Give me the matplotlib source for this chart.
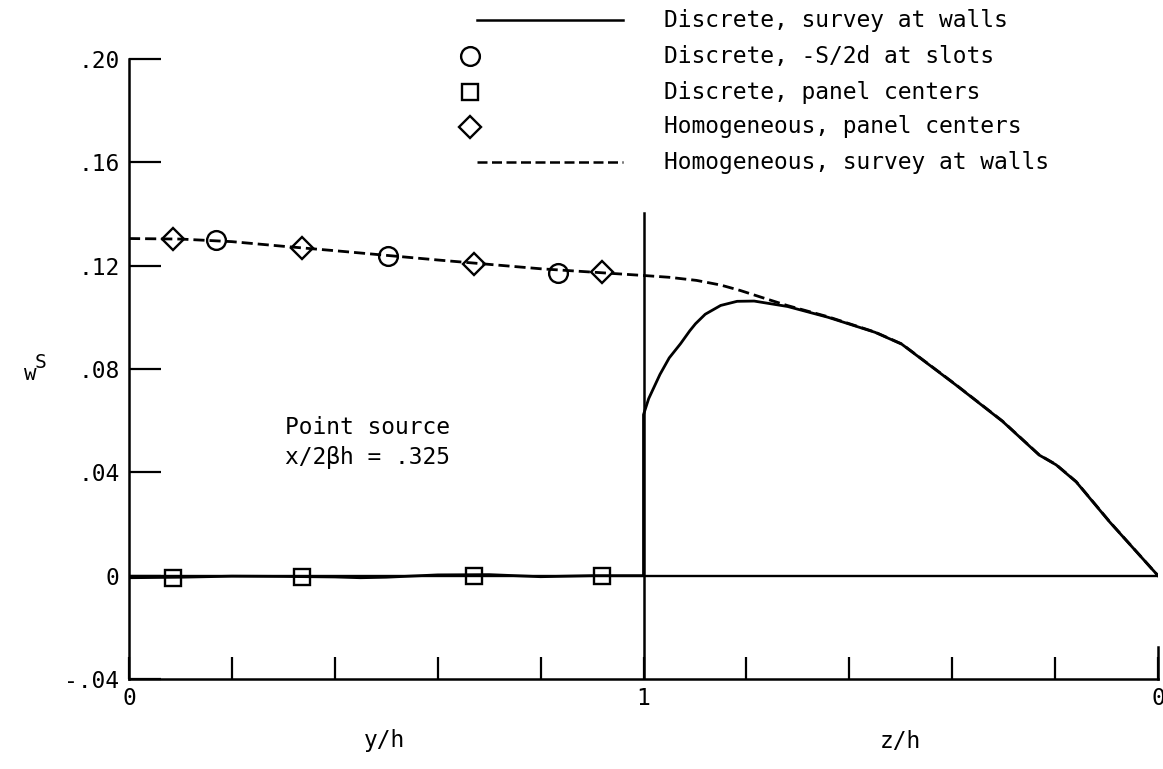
import matplotlib
matplotlib.use("Agg")
import matplotlib.pyplot as plt
from matplotlib.lines import Line2D

# ---------------- data ----------------
# x axis: 0..1 is y/h, 1..2 is z/h running from 1 back to 0
disc_wall_x = [0.0, 0.1, 0.2, 0.3, 0.4, 0.45, 0.5, 0.6, 0.7, 0.8, 0.9, 0.98, 1.0,
               1.0, 1.01, 1.032, 1.05, 1.072, 1.09, 1.101, 1.12, 1.15, 1.182, 1.215,
               1.280, 1.359, 1.450, 1.502, 1.606, 1.698, 1.769, 1.802, 1.841, 1.906, 2.0]
disc_wall_y = [-0.0008, -0.0006, -0.0002, -0.0003, -0.0005, -0.0008, -0.0006, 0.0003,
               0.0004, -0.0004, 0.0, 0.0, 0.0,
               0.0623, 0.0685, 0.0779, 0.0843, 0.0898, 0.0948, 0.0975, 0.1012, 0.1046,
               0.1062, 0.1063, 0.1042, 0.1000, 0.0942, 0.0896, 0.0740, 0.0597, 0.0467,
               0.0429, 0.0363, 0.0208, 0.0]

slot_x = [0.17, 0.503, 0.834]
slot_y = [0.1300, 0.1238, 0.1171]

panel_x = [0.085, 0.336, 0.670, 0.919]
disc_panel_y = [-0.0010, -0.0007, -0.0003, -0.0001]
hom_panel_y = [0.1305, 0.1268, 0.1207, 0.1177]

hom_wall_x = [0.0, 0.1, 0.2, 0.3, 0.4, 0.5, 0.6, 0.7, 0.8, 0.9, 1.0, 1.05, 1.103, 1.15,
              1.188, 1.23, 1.279, 1.359, 1.450, 1.502, 1.606, 1.698, 1.769, 1.802,
              1.841, 1.906, 2.0]
hom_wall_y = [0.1305, 0.1303, 0.1293, 0.1275, 0.1258, 0.1240, 0.1222, 0.1205, 0.1188,
              0.1175, 0.1162, 0.1155, 0.1143, 0.1125, 0.1104, 0.1077, 0.1046, 0.1002,
              0.0943, 0.0897, 0.0741, 0.0598, 0.0468, 0.0430, 0.0364, 0.0209, 0.0]

wall_top = 0.1404

yticks = [-0.04, 0.0, 0.04, 0.08, 0.12, 0.16, 0.20]
ytick_labels = ["-.04", "0", ".04", ".08", ".12", ".16", ".20"]
xticks_major = [0.0, 1.0, 2.0]
xtick_labels = ["0", "1", "0"]
xticks_minor = [0.2, 0.4, 0.6, 0.8, 1.2, 1.4, 1.6, 1.8]

legend_labels = ["Discrete, survey at walls", "Discrete, -S/2d at slots",
                 "Discrete, panel centers", "Homogeneous, panel centers",
                 "Homogeneous, survey at walls"]

# ---------------- figure ----------------
W, H = 1163, 769
FONT = "DejaVu Sans Mono"
FS = 16.5
plt.rcParams["font.family"] = FONT

fig = plt.figure(figsize=(W / 100, H / 100), dpi=100)
ax = fig.add_axes([129 / W, 1 - 679 / H, (1158 - 129) / W, (679 - 59) / H])
ax.set_xlim(0, 2)
ax.set_ylim(-0.04, 0.20)
for s in ["top", "right"]:
    ax.spines[s].set_visible(False)
for s in ["left", "bottom"]:
    ax.spines[s].set_linewidth(1.8)

ax.set_yticks(yticks)
ax.set_yticklabels(ytick_labels, fontsize=FS)
ax.set_xticks(xticks_major)
ax.set_xticklabels(xtick_labels, fontsize=FS)
ax.set_xticks(xticks_minor, minor=True)
ax.tick_params(axis="y", direction="in", length=23, width=1.6, pad=7)
ax.tick_params(axis="x", which="both", direction="in", length=16, width=1.6, pad=6)

dash = (4.0, 1.8)
lw = 2.0
# zero reference line
ax.axhline(0, color="black", lw=1.7)
# wall between the two halves
ax.plot([1.0, 1.0], [-0.04, wall_top], color="black", lw=1.8)
# end tick at the right
ax.plot([2.0, 2.0], [-0.04, -0.04 + 32 / 620 * 0.24], color="black", lw=1.8, clip_on=False)

ax.plot(hom_wall_x, hom_wall_y, color="black", lw=lw, dashes=dash)
ax.plot(disc_wall_x, disc_wall_y, color="black", lw=lw)

ms_kw = dict(linestyle="none", markerfacecolor="none", markeredgecolor="black",
             markeredgewidth=1.7, clip_on=False)
ax.plot(slot_x, slot_y, marker="o", markersize=13.5, **ms_kw)
ax.plot(panel_x, disc_panel_y, marker="s", markersize=11.5, **ms_kw)
ax.plot(panel_x, hom_panel_y, marker="D", markersize=11.5, **ms_kw)

# annotation
ax.text(0.303, 0.0575, "Point source", fontsize=FS, ha="left", va="center")
ax.text(0.303, 0.0459, "x/2βh = .325", fontsize=FS, ha="left", va="center")

# axis labels
fig.text(385 / W, 1 - 741 / H, "y/h", fontsize=FS, ha="center", va="center")
fig.text(900 / W, 1 - 741 / H, "z/h", fontsize=FS, ha="center", va="center")
fig.text(30 / W, 1 - 374 / H, "w", fontsize=15, ha="center", va="center")
fig.text(40 / W, 1 - 363 / H, "S", fontsize=14, ha="center", va="center")

# legend (manual)
rows = [20, 56, 92, 127, 162]
def fx(px):
    return px / W
def fy(py):
    return 1 - py / H

mk = dict(markerfacecolor="none", markeredgecolor="black", markeredgewidth=1.7)
fig.add_artist(Line2D([fx(477), fx(623)], [fy(rows[0])] * 2, color="black", lw=1.8))
fig.add_artist(Line2D([fx(470)], [fy(rows[1])], marker="o", markersize=13.5, **mk))
fig.add_artist(Line2D([fx(470)], [fy(rows[2])], marker="s", markersize=11.5, **mk))
fig.add_artist(Line2D([fx(470)], [fy(rows[3])], marker="D", markersize=11.5, **mk))
fig.add_artist(Line2D([fx(477), fx(623)], [fy(rows[4])] * 2, color="black", lw=1.8,
                      dashes=dash))
for r, lab in zip(rows, legend_labels):
    fig.text(fx(664), fy(r), lab, fontsize=FS, ha="left", va="center")

fig.savefig("out.png", dpi=100)
